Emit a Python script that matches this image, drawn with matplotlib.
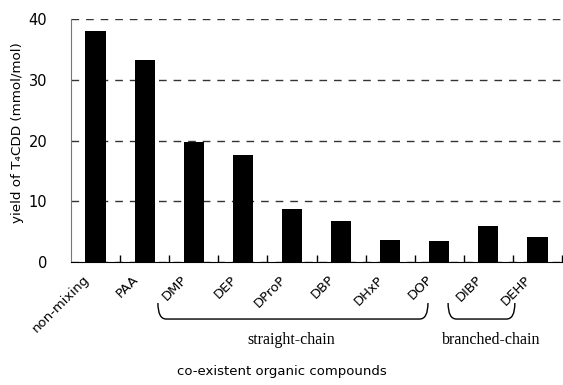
import numpy as np
import matplotlib.pyplot as plt
from matplotlib.path import Path
from matplotlib.patches import PathPatch
import matplotlib.transforms as mtransforms

plt.rcParams['font.family'] = ['DejaVu Sans']
plt.rcParams['font.serif'] = ['Liberation Serif', 'DejaVu Serif']

compounds = ['non-mixing', 'PAA', 'DMP', 'DEP', 'DProP', 'DBP', 'DHxP', 'DOP', 'DIBP', 'DEHP']
yields = [38.0, 33.3, 19.7, 17.6, 8.7, 6.75, 3.7, 3.4, 5.9, 4.1]
groups = ['straight-chain', 'branched-chain']
group_spans = [(1.27, 6.77), (7.18, 8.54)]
group_label_x = [3.98, 8.05]

fig = plt.figure(figsize=(5.63, 3.85), dpi=100)
ax = fig.add_axes([71 / 563, 1 - 262 / 385, 491 / 563, (262 - 19.3) / 385])

x = np.arange(len(compounds))
ax.bar(x, yields, width=0.41, color='black', zorder=3)

ax.set_xlim(-0.5, len(compounds) - 0.5)
ax.set_ylim(0, 40)
ax.set_yticks([0, 10, 20, 30, 40])
ax.yaxis.grid(True, color='#333333', linestyle=(0, (5.5, 5)), linewidth=1)
ax.set_axisbelow(True)

for s in ['top', 'right']:
    ax.spines[s].set_visible(False)
ax.spines['left'].set_color('#777777')
ax.spines['bottom'].set_color('black')

ax.tick_params(axis='y', length=0, pad=17, labelsize=10.5)
ax.set_xticks(x)
ax.set_xticklabels(compounds, rotation=45, ha='right', va='top',
                   rotation_mode='anchor', fontsize=9.5)
ax.tick_params(axis='x', which='major', length=0, pad=8)
shift = mtransforms.ScaledTranslation(-13 / 100, 0, fig.dpi_scale_trans)
for lbl in ax.get_xticklabels():
    lbl.set_transform(lbl.get_transform() + shift)
ax.set_xticks(np.arange(0.5, len(compounds)), minor=True)
ax.tick_params(axis='x', which='minor', direction='in', length=5, width=1)

ax.set_ylabel('yield of T\u2084CDD (mmol/mol)', fontsize=9.7, va='center')
ax.yaxis.set_label_coords(-0.108, 0.534)

# brackets under the phthalate groups
trans = mtransforms.blended_transform_factory(ax.transData, ax.transAxes)
y_top, y_bot, r = -0.169, -0.235, 0.17
for (x0, x1), lx, name in zip(group_spans, group_label_x, groups):
    verts = [(x0, y_top), (x0, y_bot), (x0 + r, y_bot),
             (x1 - r, y_bot), (x1, y_bot), (x1, y_top)]
    codes = [Path.MOVETO, Path.CURVE3, Path.CURVE3,
             Path.LINETO, Path.CURVE3, Path.CURVE3]
    ax.add_patch(PathPatch(Path(verts, codes), transform=trans, fill=False,
                           lw=1, color='black', clip_on=False))
    ax.text(lx, -0.321, name, transform=trans, ha='center', va='center',
            family='serif', fontsize=11.5)

fig.text(0.5, 1 - 372 / 385, 'co-existent organic compounds',
         ha='center', va='center', fontsize=9.5)

fig.savefig('out.png', dpi=100)
